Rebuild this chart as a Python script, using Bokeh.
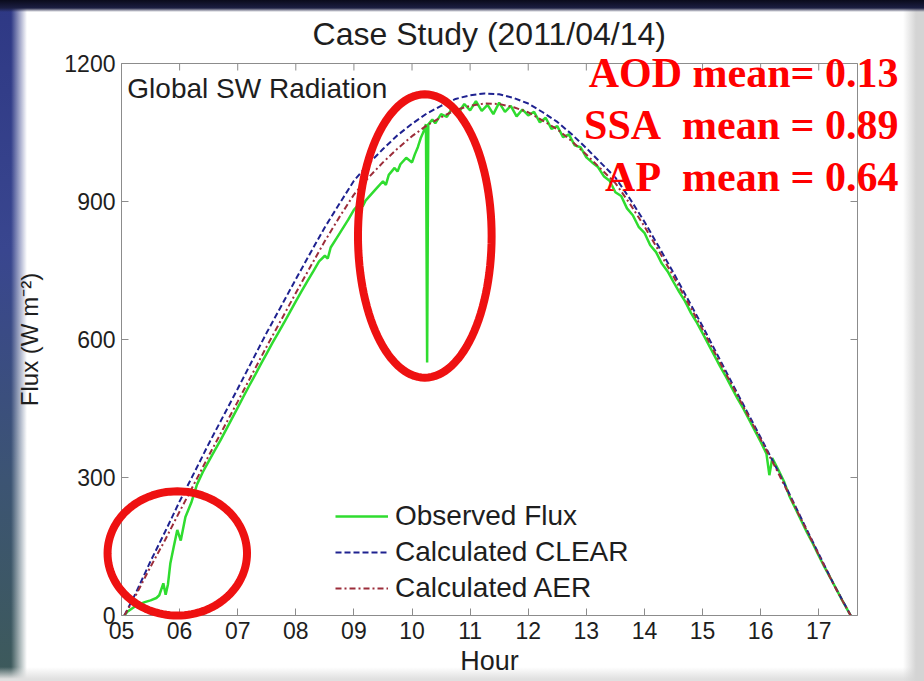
import numpy as np
from bokeh.plotting import figure
from bokeh.models import (Range1d, FixedTicker, Label, PolyAnnotation,
                          Legend, LegendItem)
from bokeh.embed import file_html
from bokeh.resources import INLINE

# ---------------- data ----------------
model_hours = [5.05, 5.25, 5.5, 5.75, 6.0, 6.25, 6.5, 6.75, 7.0, 7.25, 7.5, 7.75,
               8.0, 8.25, 8.5, 8.75, 9.0, 9.25, 9.5, 9.75, 10.0, 10.25, 10.5, 10.75,
               11.0, 11.25, 11.5, 11.75, 12.0, 12.25, 12.5, 12.75, 13.0, 13.25, 13.5,
               13.75, 14.0, 14.25, 14.5, 14.75, 15.0, 15.25, 15.5, 15.75, 16.0, 16.25,
               16.5, 16.75, 17.0, 17.25, 17.4, 17.5, 17.55]
clear_flux = [0, 50, 118, 182, 248, 310, 373, 433, 493, 554, 615, 673,
              731, 788, 844, 895, 945, 982, 1014, 1044, 1069, 1091, 1108, 1123,
              1131, 1135, 1133, 1125, 1113, 1094, 1073, 1046, 1016, 984, 952,
              906, 856, 801, 745, 687, 629, 568, 507, 447, 387, 326,
              263, 198, 134, 70, 35, 12, 0]
aer_flux = [0, 45, 106, 164, 226, 286, 347, 406, 465, 525, 585, 643,
            701, 758, 814, 866, 915, 952, 985, 1015, 1042, 1065, 1083, 1099,
            1108, 1113, 1112, 1105, 1094, 1076, 1057, 1031, 1002, 971, 940,
            895, 846, 792, 737, 680, 622, 562, 502, 443, 383, 323,
            260, 196, 132, 69, 34, 11, 0]

obs_hours = [5.05, 5.1, 5.2, 5.3, 5.4, 5.5, 5.6, 5.65, 5.72, 5.76, 5.8, 5.84, 5.9,
             5.96, 6.02, 6.1, 6.2, 6.3, 6.4, 6.5, 6.6, 6.7, 6.8, 6.9, 7.0, 7.1, 7.2,
             7.3, 7.4, 7.5, 7.6, 7.7, 7.8, 7.9, 8.0, 8.1, 8.2, 8.3, 8.4, 8.5, 8.55,
             8.6, 8.7, 8.8, 8.9, 9.0, 9.1, 9.15, 9.2, 9.3, 9.4, 9.5, 9.55, 9.6, 9.7,
             9.75, 9.8, 9.9, 10.0, 10.05, 10.1, 10.15, 10.2, 10.24, 10.26, 10.28,
             10.35, 10.4, 10.5, 10.6, 10.7, 10.8, 10.9, 11.0, 11.1, 11.2, 11.3, 11.4,
             11.5, 11.6, 11.7, 11.8, 11.9, 12.0, 12.1, 12.2, 12.3, 12.4, 12.5, 12.6,
             12.7, 12.8, 12.9, 13.0, 13.1, 13.2, 13.3, 13.4, 13.5, 13.6, 13.7, 13.8,
             13.9, 14.0, 14.1, 14.2, 14.3, 14.4, 14.5, 14.6, 14.7, 14.8, 14.9, 15.0,
             15.1, 15.2, 15.3, 15.4, 15.5, 15.6, 15.7, 15.8, 15.9, 16.0, 16.1, 16.15,
             16.2, 16.3, 16.4, 16.5, 16.6, 16.7, 16.8, 16.9, 17.0, 17.1, 17.2, 17.3,
             17.4, 17.5, 17.55]
obs_flux = [0, 8, 17, 24, 29, 33, 38, 44, 70, 45, 68, 113, 150,
            186, 163, 214, 245, 285, 312, 335, 358, 380, 404, 428, 452, 476, 500,
            523, 547, 570, 593, 615, 637, 660, 683, 705, 727, 748, 770, 782, 776,
            800, 820, 840, 860, 882, 896, 889, 902, 916, 930, 944, 936, 958, 973,
            965, 981, 995, 985, 1003, 1018, 1038, 1052, 1068, 550, 1068,
            1078, 1070, 1090, 1084, 1105, 1093, 1112, 1098, 1118, 1097, 1110, 1090,
            1115, 1095, 1108, 1085, 1100, 1087, 1095, 1072, 1082, 1058, 1064, 1040,
            1046, 1022, 1018, 996, 985, 975, 955, 945, 920, 912, 885, 870,
            845, 832, 805, 790, 765, 748, 725, 703, 683, 658, 637, 614,
            590, 566, 542, 520, 496, 472, 450, 426, 402, 378, 352, 305,
            342, 318, 292, 258, 232, 206, 180, 156, 130, 105, 82, 58,
            34, 11, 0]

hour_ticks = [5, 6, 7, 8, 9, 10, 11, 12, 13, 14, 15, 16, 17]
hour_labels = ["05", "06", "07", "08", "09", "10", "11", "12", "13", "14", "15", "16", "17"]
flux_ticks = [0, 300, 600, 900, 1200]

title_text = "Case Study (2011/04/14)"
panel_text = "Global SW Radiation"
stats_lines = ["AOD mean= 0.13", "SSA\u00a0 mean = 0.89", "AP\u00a0 mean = 0.64"]
series_names = ["Observed Flux", "Calculated CLEAR", "Calculated AER"]

# ---------------- layout constants ----------------
W, H = 924, 681
BOX_L, BOX_R, BOX_T, BOX_B = 121, 857, 63, 615      # pixel box of the axes
X0, X1, Y0, Y1 = 5, 17.667, 0, 1200                 # data limits of the box
kx = (BOX_R - BOX_L) / (X1 - X0)
ky = (BOX_B - BOX_T) / (Y1 - Y0)
xr = Range1d(X0 - BOX_L / kx, X1 + (W - BOX_R) / kx)
yr = Range1d(Y0 - (H - BOX_B) / ky, Y1 + BOX_T / ky)

FONT = "Liberation Sans"
AX = "#8c8c8c"
TXT = "#1e1e1e"

bg = ("linear-gradient(to bottom, #0a0b1c 0px, #1b1e42 8px, rgba(27,30,66,0) 12px), "
      "linear-gradient(to right, rgba(214,214,214,0) 903px, #d4d4d4 916px), "
      "linear-gradient(to bottom, rgba(226,226,226,0) 667px, #e0e0e0 679px), "
      "linear-gradient(to right, rgba(255,255,255,0) 11px, #ffffff 27px), "
      "linear-gradient(to bottom, #2e3884 0px, #39468f 250px, #3c5473 480px, #3d5a5a 681px)")

p = figure(width=W, height=H, output_backend="svg", toolbar_location=None,
           x_range=xr, y_range=yr, min_border=0, styles={"background": bg})
p.title.visible = False
p.border_fill_alpha = 0
p.background_fill_alpha = 0
p.outline_line_color = None
p.grid.visible = False

bottom_ax = p.below[0]
left_ax = p.left[0]
bottom_ax.fixed_location = Y0
left_ax.fixed_location = X0
bottom_ax.bounds = (X0, X1)
left_ax.bounds = (Y0, Y1)

bottom_ax.ticker = FixedTicker(ticks=hour_ticks)
bottom_ax.major_label_overrides = {t: l for t, l in zip(hour_ticks, hour_labels)}
bottom_ax.axis_label = "Hour"
bottom_ax.axis_label_standoff = 4
left_ax.ticker = FixedTicker(ticks=flux_ticks)
left_ax.axis_label = "Flux (W m\u207b\u00b2)"
left_ax.axis_label_standoff = 18

for ax in [bottom_ax, left_ax]:
    ax.axis_line_color = AX
    ax.major_tick_line_color = AX
    ax.major_tick_in = 7
    ax.major_tick_out = 0
    ax.minor_tick_line_color = None
    ax.major_label_text_font = FONT
    ax.major_label_text_color = TXT
    ax.major_label_text_font_size = "23px"
    ax.major_label_standoff = 6
    ax.axis_label_text_font = FONT
    ax.axis_label_text_font_style = "normal"
    ax.axis_label_text_color = TXT
bottom_ax.axis_label_text_font_size = "27px"
left_ax.axis_label_text_font_size = "24px"

# white plotting area, box edges and inward ticks on top / right
p.quad(left=[X0], right=[X1], bottom=[Y0], top=[Y1], fill_color="white",
       line_color=None, level="underlay")
p.line([X0, X1, X1], [Y1, Y1, Y0], line_color=AX, line_width=1)
tick_dy = 7 / ky
tick_dx = 7 / kx
p.segment(x0=hour_ticks, y0=[Y1] * len(hour_ticks), x1=hour_ticks,
          y1=[Y1 - tick_dy] * len(hour_ticks), line_color=AX, line_width=1)
p.segment(x0=[X1] * len(flux_ticks), y0=flux_ticks, x1=[X1 - tick_dx] * len(flux_ticks),
          y1=flux_ticks, line_color=AX, line_width=1)

r_obs = p.line(obs_hours, obs_flux, line_color="#2fdc2f", line_width=2.5)
r_clr = p.line(model_hours, clear_flux, line_color="#1f2290", line_width=2,
               line_dash="6 3")
r_aer = p.line(model_hours, aer_flux, line_color="#9c2d3a", line_width=2,
               line_dash="6 3 2 3")

legend = Legend(items=[LegendItem(label=series_names[0], renderers=[r_obs]),
                       LegendItem(label=series_names[1], renderers=[r_clr]),
                       LegendItem(label=series_names[2], renderers=[r_aer])],
                location=(BOX_L + 214, H - BOX_B + 11), border_line_alpha=0,
                background_fill_alpha=0,
                label_text_font=FONT, label_text_font_size="28px",
                label_text_color=TXT, glyph_width=53, glyph_height=30,
                label_height=30, spacing=4, padding=0, margin=0,
                label_standoff=7)
p.add_layout(legend, "center")

# text annotations
p.add_layout(Label(x=11.33, y=1265, text=title_text, text_align="center",
                   text_baseline="middle", text_font=FONT, text_font_size="32px",
                   text_color=TXT))
p.add_layout(Label(x=5.1, y=1146, text=panel_text, text_align="left",
                   text_baseline="middle", text_font=FONT, text_font_size="28px",
                   text_color=TXT))
for txt, yy in zip(stats_lines, [1180, 1067, 954]):
    p.add_layout(Label(x=18.373, y=yy, text=txt, text_align="right",
                       text_baseline="middle", text_font="Liberation Serif",
                       text_font_style="bold", text_font_size="42px",
                       text_color="#ff0000"))

# red highlight ellipses
t = np.linspace(0, 2 * np.pi, 121)
for cx, cy, rx, ry in [(5.96, 135, 1.2, 135), (10.22, 825, 1.15, 308)]:
    p.add_layout(PolyAnnotation(xs=list(cx + rx * np.cos(t)), ys=list(cy + ry * np.sin(t)),
                                fill_alpha=0, line_color="#ee1111", line_alpha=1.0,
                                line_width=8))

open("out.html", "w").write(file_html(p, INLINE))
